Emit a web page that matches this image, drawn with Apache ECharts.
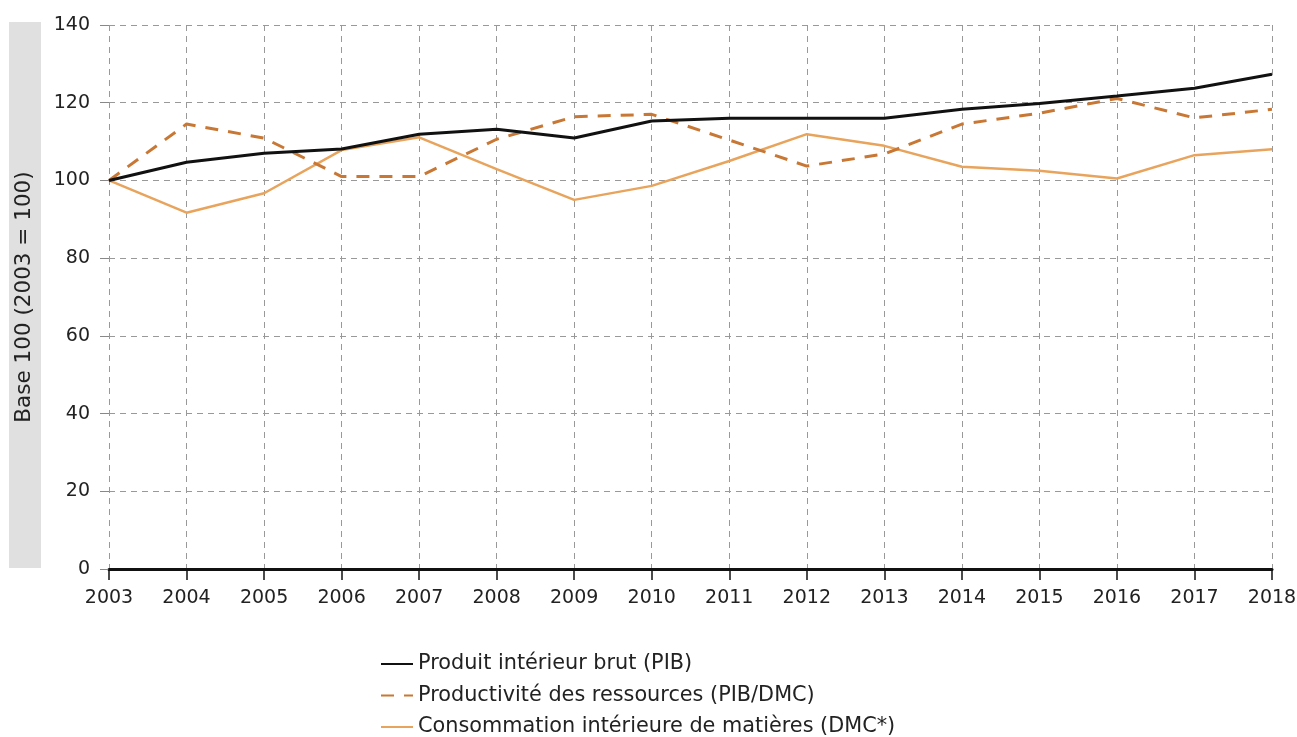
<!DOCTYPE html>
<html><head><meta charset="utf-8">
<script src="https://cdn.jsdelivr.net/npm/echarts@6/dist/echarts.min.js"></script>
<style>html,body{margin:0;padding:0;background:#fff}#c{width:1297px;height:737px}</style>
</head><body><div id="c"></div>
<script>
const years = ['2003','2004','2005','2006','2007','2008','2009','2010','2011','2012','2013','2014','2015','2016','2017','2018'];
const pib = [100,104.7,107.0,108.1,111.9,113.2,110.9,115.3,116.0,116.0,116.0,118.3,119.8,121.7,123.7,127.3];
const productivite = [100,114.5,110.9,101.0,101.0,110.6,116.4,117.0,110.4,103.7,106.8,114.5,117.3,121.1,116.1,118.3];
const dmc = [100,91.7,96.7,107.8,111.1,102.9,95.0,98.6,105.0,111.9,108.9,103.5,102.5,100.5,106.5,108.0];
const seriesNames = ['Produit intérieur brut (PIB)','Productivité des ressources (PIB/DMC)','Consommation intérieure de matières (DMC*)'];
const yTicks = {min:0,max:140,interval:20};

const chart = echarts.init(document.getElementById('c'));
const font = 'DejaVu Sans';
const legendCenters = [662, 693.5, 725];
chart.setOption({
  animation:false,
  textStyle:{fontFamily:font},
  graphic:[{type:'rect',shape:{x:9,y:22,width:32,height:546},style:{fill:'#e0e0e0'},z:0}],
  grid:{left:109,right:25,top:25,bottom:168,outerBoundsMode:'none',containLabel:false},
  legend: seriesNames.map((n,i)=>({orient:'vertical',left:380,top:legendCenters[i]-9,padding:0,itemWidth:32,itemHeight:14,
    itemStyle:{opacity:0},
    textStyle:{fontFamily:font,fontSize:20.8,lineHeight:22,color:'#222'},data:[n]})),
  xAxis:{type:'category',data:years,boundaryGap:false,
    axisLine:{show:true,lineStyle:{color:'#111',width:3}},
    axisTick:{show:true,length:11,lineStyle:{color:'#111',width:1.5}},
    axisLabel:{fontFamily:font,fontSize:19,color:'#222',margin:20},
    splitLine:{show:true,lineStyle:{color:'#999',type:[6,5],width:1}}},
  yAxis:{type:'value',min:yTicks.min,max:yTicks.max,interval:yTicks.interval,
    name:'Base 100 (2003 = 100)',nameLocation:'middle',nameGap:74,nameRotate:90,
    nameTextStyle:{fontFamily:font,fontSize:21.5,color:'#222'},
    axisLine:{show:false},
    axisTick:{show:true,length:9,lineStyle:{color:'#888'}},
    axisLabel:{fontFamily:font,fontSize:19,color:'#222',margin:19},
    splitLine:{show:true,lineStyle:{color:'#999',type:[6,5],width:1}}},
  series:[
    {name:seriesNames[0],type:'line',data:pib,symbol:'none',z:5,
      lineStyle:{color:'#111',width:3},itemStyle:{color:'#111'}},
    {name:seriesNames[1],type:'line',data:productivite,symbol:'none',z:4,
      lineStyle:{color:'#c87834',width:3,type:[13,10]},itemStyle:{color:'#c87834'}},
    {name:seriesNames[2],type:'line',data:dmc,symbol:'none',z:3,
      lineStyle:{color:'#e8a45c',width:2.5},itemStyle:{color:'#e8a45c'}}
  ]
});
</script></body></html>
